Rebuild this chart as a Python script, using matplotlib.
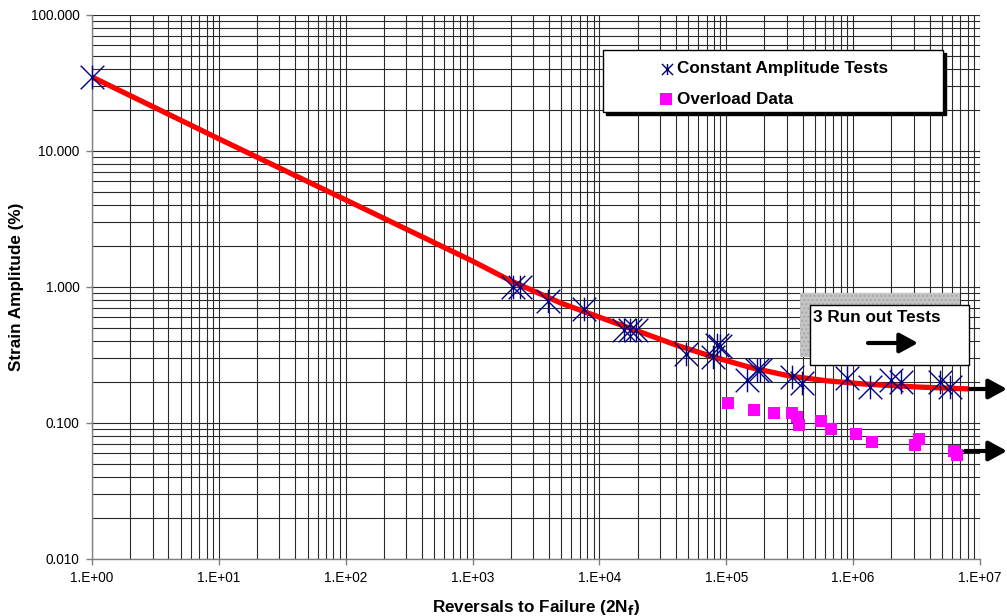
import numpy as np
import matplotlib
matplotlib.use("Agg")
import matplotlib.pyplot as plt
from matplotlib.path import Path
from matplotlib.patches import Rectangle
from matplotlib.ticker import FixedLocator, FuncFormatter, NullFormatter

plt.rcParams['font.family'] = ['Liberation Sans', 'DejaVu Sans']

# constant amplitude tests
ca_reversals = [1, 2080, 2360, 3920, 7540, 15500, 17400, 19300, 48000, 78000, 84000,
                89000, 145000, 174000, 183000, 328000, 394000, 890000, 1350000,
                2000000, 2400000, 4800000, 5800000]
ca_strain = [35.0, 1.0, 1.0, 0.79, 0.69, 0.48, 0.48, 0.48, 0.32, 0.305, 0.375,
             0.37, 0.207, 0.245, 0.245, 0.218, 0.197, 0.214, 0.184,
             0.207, 0.20, 0.20, 0.184]

# overload data
ol_reversals = [103000, 165000, 237000, 328000, 360000, 372000, 556000, 665000,
                1050000, 1400000, 3060000, 3290000, 6200000, 6600000]
ol_strain = [0.140, 0.125, 0.118, 0.118, 0.111, 0.097, 0.103, 0.090,
             0.083, 0.072, 0.069, 0.076, 0.062, 0.058]

# fitted strain-life curve
fit_reversals = [1, 10, 100, 1000, 2000, 5000, 10000, 20000, 40000, 80000,
                 160000, 320000, 630000, 1260000, 3200000, 8300000]
fit_strain = [35.0, 12.3, 4.37, 1.55, 1.11, 0.76, 0.60, 0.475, 0.375, 0.305,
              0.254, 0.221, 0.204, 0.193, 0.184, 0.178]

x_ticks = [1, 1e1, 1e2, 1e3, 1e4, 1e5, 1e6, 1e7]
y_ticks = [0.01, 0.1, 1, 10, 100]

W, H = 1007, 616
L, R, T, B = 92, 980, 15, 559

def af(px, py):
    # figure pixel -> axes fraction
    return (px - L) / (R - L), (B - py) / (B - T)

fig = plt.figure(figsize=(W / 100, H / 100), dpi=100)
ax = fig.add_axes([L / W, 1 - B / H, (R - L) / W, (B - T) / H])

# star marker like excel's (X plus vertical bar)
star = Path([(-1, -1), (1, 1), (-1, 1), (1, -1), (0, -1), (0, 1)],
            [Path.MOVETO, Path.LINETO, Path.MOVETO, Path.LINETO, Path.MOVETO, Path.LINETO])

ax.plot(fit_reversals, fit_strain, color='#ff0000', lw=3.8, zorder=3, solid_capstyle='butt')
ax.plot(ca_reversals, ca_strain, ls='none', marker=star, markersize=17,
        markeredgecolor='#000080', markerfacecolor='none', markeredgewidth=1.0,
        zorder=4, clip_on=False)
ax.plot(ol_reversals, ol_strain, ls='none', marker='s', markersize=8.5,
        color='#ff00ff', markeredgewidth=0, zorder=4)

ax.set_xscale('log')
ax.set_yscale('log')
ax.set_xlim(1, 1e7)
ax.set_ylim(0.01, 100)

minor_x = [m * d for d in x_ticks[:-1] for m in range(2, 10)]
minor_y = [m * d for d in y_ticks[:-1] for m in range(2, 10)]
ax.xaxis.set_major_locator(FixedLocator(x_ticks))
ax.yaxis.set_major_locator(FixedLocator(y_ticks))
ax.xaxis.set_minor_locator(FixedLocator(minor_x))
ax.yaxis.set_minor_locator(FixedLocator(minor_y))
ax.xaxis.set_minor_formatter(NullFormatter())
ax.yaxis.set_minor_formatter(NullFormatter())
ax.xaxis.set_major_formatter(FuncFormatter(lambda v, p: '1.E+%02d' % round(np.log10(v))))
ax.yaxis.set_major_formatter(FuncFormatter(lambda v, p: '%.3f' % v))

ax.grid(True, which='both', color='#2a2a2a', lw=0.8, zorder=0)
ax.set_axisbelow(True)
ax.tick_params(which='major', length=4, width=1, color='#808080', labelsize=9.8, pad=5)
ax.tick_params(which='minor', length=0)
for s in ax.spines.values():
    s.set_color('#808080')
    s.set_linewidth(1)
ax.spines['top'].set_visible(False)
ax.spines['right'].set_visible(False)

ax.set_ylabel('Strain Amplitude (%)', fontsize=12.3, fontweight='bold', labelpad=5)
ax.set_xlabel('Reversals to Failure (2N$_\\mathbf{f}$)', fontsize=12.3, fontweight='bold', labelpad=9)

# legend box with shadow
x0, y0 = af(603, 112)
x1, y1 = af(943, 50)
sx, sy = af(606, 115)
ax.add_patch(Rectangle((sx, sy), x1 - x0, y1 - y0, transform=ax.transAxes,
                       facecolor='black', edgecolor='black', zorder=6, clip_on=False))
ax.add_patch(Rectangle((x0, y0), x1 - x0, y1 - y0, transform=ax.transAxes,
                       facecolor='white', edgecolor='black', lw=1, zorder=7, clip_on=False))
mx, my = af(667, 69)
ax.plot([mx], [my], transform=ax.transAxes, marker=star, markersize=8,
        markeredgecolor='#000080', markeredgewidth=1.0, ls='none', zorder=8, clip_on=False)
tx, ty = af(677, 69)
ax.text(tx, ty, 'Constant Amplitude Tests', transform=ax.transAxes, fontsize=12.3,
        fontweight='bold', va='center', ha='left', zorder=8)
mx, my = af(666, 99)
ax.plot([mx], [my], transform=ax.transAxes, marker='s', markersize=8,
        color='#ff00ff', markeredgewidth=0, ls='none', zorder=8, clip_on=False)
tx, ty = af(677, 99)
ax.text(tx, ty, 'Overload Data', transform=ax.transAxes, fontsize=12.3,
        fontweight='bold', va='center', ha='left', zorder=8)

# run out text box
gx0, gy0 = af(800, 357)
gx1, gy1 = af(960, 293)
ax.add_patch(Rectangle((gx0, gy0), gx1 - gx0, gy1 - gy0, transform=ax.transAxes,
                       facecolor='#c4c4c4', edgecolor='#a8a8a8', hatch='....', lw=0, zorder=5))
bx0, by0 = af(810, 365)
bx1, by1 = af(969, 305)
ax.add_patch(Rectangle((bx0, by0), bx1 - bx0, by1 - by0, transform=ax.transAxes,
                       facecolor='white', edgecolor='black', lw=1, zorder=6, clip_on=False))
tx, ty = af(813, 317)
ax.text(tx, ty, '3 Run out Tests', transform=ax.transAxes, fontsize=12.3,
        fontweight='bold', va='center', ha='left', zorder=7)

arrow = dict(arrowstyle='-|>,head_length=0.55,head_width=0.3', lw=3, color='black',
             mutation_scale=20, shrinkA=0, shrinkB=0)
ax.annotate('', xy=af(918, 343), xytext=af(868, 343), xycoords='axes fraction',
            arrowprops=arrow, zorder=7)
ax.annotate('', xy=(W, H - 389), xytext=(970, H - 389), xycoords='figure pixels',
            arrowprops=arrow, annotation_clip=False, zorder=7)
ax.annotate('', xy=(W, H - 451), xytext=(965, H - 451), xycoords='figure pixels',
            arrowprops=arrow, annotation_clip=False, zorder=7)

fig.savefig('out.png', dpi=100)
